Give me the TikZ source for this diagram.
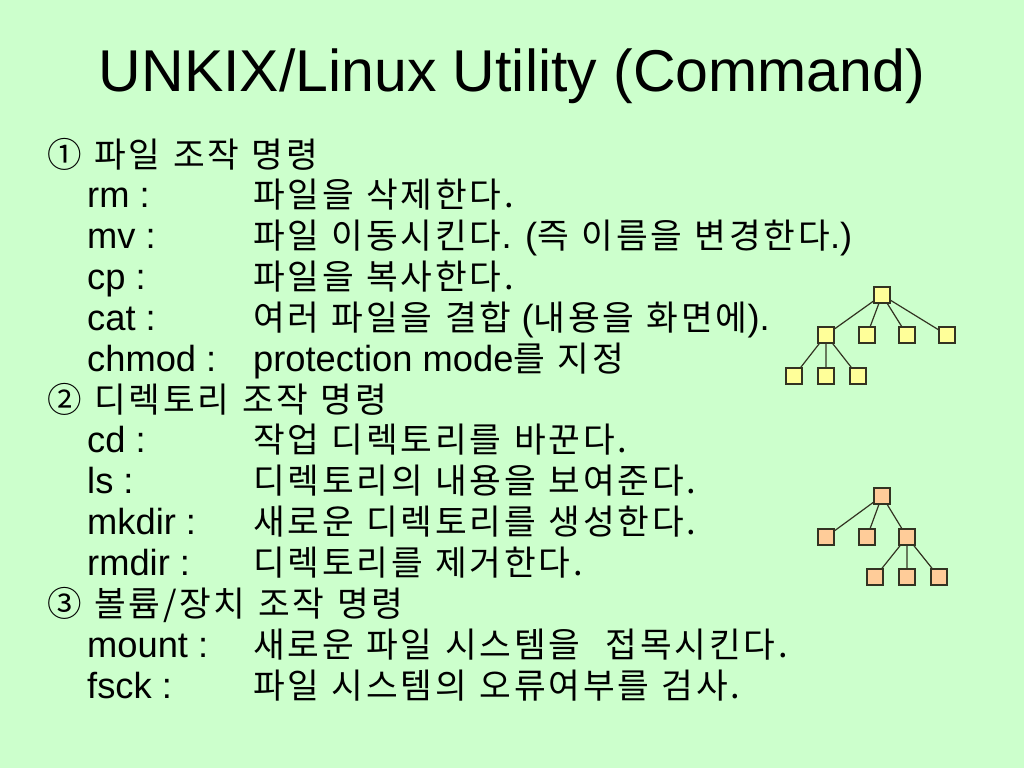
\documentclass[tikz,border=0pt]{standalone}
\usepackage{fontspec}
\setmainfont{Liberation Sans}
\newfontfamily\kr[Scale=0.95,LetterSpace=8,WordSpace=1.2]{Noto Sans CJK KR}
\definecolor{bg}{HTML}{CCFFCC}
\definecolor{yelbox}{HTML}{FFFF99}
\definecolor{orbox}{HTML}{FFCC99}
\definecolor{boxline}{HTML}{333322}
\begin{document}
\begin{tikzpicture}[x=1pt,y=-1pt,
  txt/.style={anchor=base west, inner sep=0pt, font=\fontsize{36.3}{42}\selectfont},
  titletxt/.style={anchor=base, inner sep=0pt, font=\fontsize{59}{66}\selectfont},
  ybox/.style={draw=boxline, line width=1.3pt, fill=yelbox, minimum size=16pt, inner sep=0pt},
  obox/.style={draw=boxline, line width=1.3pt, fill=orbox, minimum size=16pt, inner sep=0pt},
  edge/.style={draw=boxline, line width=1.2pt}]
\fill[bg] (0,0) rectangle (1024,768);
\useasboundingbox (0,0) rectangle (1024,768);
\node[titletxt] (title) at (512,91) {UNKIX/Linux Utility (Command)};
% text lines
\def\bl#1{167+40.85*#1}
\node[txt] (h1) at (47,{\bl{0}}) {\kr ① 파일 조작 명령};
\node[txt] (c1) at (87,{\bl{1}}) {rm :};
\node[txt] (d1) at (253,{\bl{1}}) {\kr 파일을 삭제한다.};
\node[txt] (c2) at (87,{\bl{2}}) {mv :};
\node[txt] (d2) at (253,{\bl{2}}) {{\kr 파일 이동시킨다}. ({\kr 즉 이름을 변경한다}.)};
\node[txt] (c3) at (87,{\bl{3}}) {cp :};
\node[txt] (d3) at (253,{\bl{3}}) {\kr 파일을 복사한다.};
\node[txt] (c4) at (87,{\bl{4}}) {cat :};
\node[txt] (d4) at (253,{\bl{4}}) {{\kr 여러 파일을 결합} ({\kr 내용을 화면에}).};
\node[txt] (c5) at (87,{\bl{5}}) {chmod :};
\node[txt] (d5) at (253,{\bl{5}}) {protection mode{\kr 를 지정}};
\node[txt] (h2) at (47,{\bl{6}}) {\kr ② 디렉토리 조작 명령};
\node[txt] (c6) at (87,{\bl{7}}) {cd :};
\node[txt] (d6) at (253,{\bl{7}}) {\kr 작업 디렉토리를 바꾼다.};
\node[txt] (c7) at (87,{\bl{8}}) {ls :};
\node[txt] (d7) at (253,{\bl{8}}) {\kr 디렉토리의 내용을 보여준다.};
\node[txt] (c8) at (87,{\bl{9}}) {mkdir :};
\node[txt] (d8) at (253,{\bl{9}}) {\kr 새로운 디렉토리를 생성한다.};
\node[txt] (c9) at (87,{\bl{10}}) {rmdir :};
\node[txt] (d9) at (253,{\bl{10}}) {\kr 디렉토리를 제거한다.};
\node[txt] (h3) at (47,{\bl{11}}) {\kr ③ 볼륨/장치 조작 명령};
\node[txt] (c10) at (87,{\bl{12}}) {mount :};
\node[txt] (d10) at (253,{\bl{12}}) {\kr 새로운 파일 시스템을 \ 접목시킨다.};
\node[txt] (c11) at (87,{\bl{13}}) {fsck :};
\node[txt] (d11) at (253,{\bl{13}}) {\kr 파일 시스템의 오류여부를 검사.};
% tree 1
\node[ybox] (ta) at (882,295) {};
\node[ybox] (tb1) at (826,335) {};
\node[ybox] (tb2) at (867,335) {};
\node[ybox] (tb3) at (907,335) {};
\node[ybox] (tb4) at (947,335) {};
\node[ybox] (tc1) at (794,376) {};
\node[ybox] (tc2) at (826,376) {};
\node[ybox] (tc3) at (858,376) {};
\draw[edge] (ta) -- (tb1) (ta) -- (tb2) (ta) -- (tb3) (ta) -- (tb4)
  (tb1) -- (tc1) (tb1) -- (tc2) (tb1) -- (tc3);
% tree 2
\node[obox] (sa) at (882,496) {};
\node[obox] (sb1) at (826,537) {};
\node[obox] (sb2) at (867,537) {};
\node[obox] (sb3) at (907,537) {};
\node[obox] (sc1) at (875,577) {};
\node[obox] (sc2) at (907,577) {};
\node[obox] (sc3) at (939,577) {};
\draw[edge] (sa) -- (sb1) (sa) -- (sb2) (sa) -- (sb3)
  (sb3) -- (sc1) (sb3) -- (sc2) (sb3) -- (sc3);
\end{tikzpicture}
\end{document}
